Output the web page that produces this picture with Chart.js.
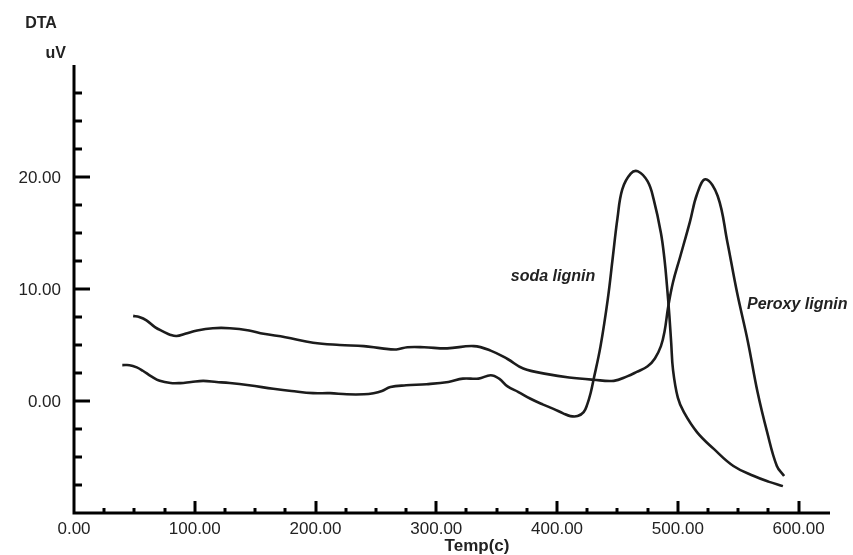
<!DOCTYPE html>
<html>
<head>
<meta charset="utf-8">
<script src="https://cdn.jsdelivr.net/npm/chart.js@4"></script>
<style>
    html, body { margin: 0; padding: 0; background: #fff; }
    #wrap { width: 853px; height: 555px; position: relative; }
</style>
</head>
<body>
<div id="wrap"><canvas id="dtaChart"></canvas></div>
<script>
// temperatures (x) and DTA signal (y)
const peroxyTemp = [49, 54, 60, 67, 74, 80, 85, 92, 102, 115, 129, 145, 157, 175, 198, 220, 240, 255, 267, 276, 290, 309, 331, 345, 359, 372, 392, 410, 430, 447, 458, 466, 475, 481, 486, 489, 492, 496, 502, 510, 516, 523, 533, 541, 549, 558, 566, 574, 582, 588];
const peroxyDta  = [7.6, 7.5, 7.2, 6.6, 6.2, 5.9, 5.8, 6.0, 6.3, 6.5, 6.5, 6.3, 6.0, 5.7, 5.2, 5.0, 4.9, 4.7, 4.6, 4.8, 4.8, 4.7, 4.9, 4.5, 3.75, 2.9, 2.4, 2.1, 1.9, 1.8, 2.2, 2.6, 3.1, 3.8, 4.9, 6.2, 8.4, 10.6, 12.9, 16.0, 18.5, 19.8, 18.3, 14.2, 9.7, 5.3, 0.8, -2.8, -5.8, -6.7];

const sodaTemp = [40, 46, 52, 57, 64, 71, 80, 88, 97, 107, 118, 129, 145, 165, 180, 198, 212, 226, 240, 248, 255, 262, 275, 292, 310, 322, 335, 345, 352, 359, 368, 378, 388, 397, 405, 411, 417, 422, 425, 428, 430, 436, 442, 446, 450, 454, 461, 467, 475, 480, 486, 489, 491, 493, 494.5, 496, 500, 505, 516, 530, 546, 563, 575, 587];
const sodaDta  = [3.2, 3.2, 3.0, 2.7, 2.2, 1.8, 1.6, 1.6, 1.7, 1.8, 1.7, 1.6, 1.4, 1.1, 0.9, 0.7, 0.7, 0.6, 0.6, 0.7, 0.9, 1.25, 1.4, 1.5, 1.7, 2.0, 2.0, 2.3, 2.0, 1.3, 0.8, 0.2, -0.3, -0.7, -1.1, -1.35, -1.35, -1.0, -0.3, 0.8, 1.8, 4.9, 9.1, 12.7, 16.3, 18.9, 20.3, 20.5, 19.6, 18.0, 15.0, 12.6, 10.3, 7.6, 5.2, 2.8, 0.3, -1.0, -2.8, -4.3, -5.8, -6.7, -7.2, -7.6];

// axis ticks
const xTickValues = [0, 100, 200, 300, 400, 500, 600];
const yTickValues = [0, 10, 20];

function toPoints(xs, ys) {
    return xs.map((x, i) => ({ x: x, y: ys[i] }));
}

// axes, tick marks and labels drawn by hand (ticks point inwards in the original)
const axesPlugin = {
    id: 'dtaAxes',
    afterDraw(chart) {
        const ctx = chart.ctx;
        const xs = chart.scales.x;
        const ys = chart.scales.y;
        const left = xs.left, right = xs.right, top = ys.top, bottom = ys.bottom;

        ctx.save();
        ctx.strokeStyle = '#000';
        ctx.lineWidth = 3;
        ctx.lineCap = 'butt';
        ctx.beginPath();
        ctx.moveTo(left, top);
        ctx.lineTo(left, bottom);
        ctx.lineTo(right, bottom);
        ctx.stroke();

        // y ticks every 2.5
        for (let v = -7.5; v <= 27.5; v += 2.5) {
            const py = Math.round(ys.getPixelForValue(v));
            const len = (v % 10 === 0) ? 16 : 8;
            ctx.beginPath();
            ctx.moveTo(left, py);
            ctx.lineTo(left + len, py);
            ctx.stroke();
        }
        // x ticks every 25
        for (let v = 25; v <= 600; v += 25) {
            const px = Math.round(xs.getPixelForValue(v));
            const len = (v % 100 === 0) ? 12 : 5;
            ctx.beginPath();
            ctx.moveTo(px, bottom);
            ctx.lineTo(px, bottom - len);
            ctx.stroke();
        }

        ctx.fillStyle = '#222';
        ctx.font = '17px "Liberation Sans", Arial, sans-serif';
        ctx.textAlign = 'right';
        ctx.textBaseline = 'middle';
        yTickValues.forEach(v => {
            ctx.fillText(v.toFixed(2), left - 13, ys.getPixelForValue(v) + 1);
        });
        ctx.textAlign = 'center';
        xTickValues.forEach(v => {
            ctx.fillText(v.toFixed(2), xs.getPixelForValue(v), bottom + 16);
        });

        ctx.font = 'bold 16px "Liberation Sans", Arial, sans-serif';
        ctx.fillText('DTA', 41, 24);
        ctx.textAlign = 'right';
        ctx.fillText('uV', 66, 54);

        ctx.textAlign = 'center';
        ctx.font = 'bold 17px "Liberation Sans", Arial, sans-serif';
        ctx.fillText('Temp(c)', 477, 546);

        ctx.font = 'italic bold 16px "Liberation Sans", Arial, sans-serif';
        ctx.fillText('soda lignin', 553, 277);
        ctx.textAlign = 'left';
        ctx.fillText('Peroxy lignin', 747, 305);
        ctx.restore();
    }
};

const ctx = document.getElementById('dtaChart').getContext('2d');

const dtaChart = new Chart(ctx, {
    type: 'line',
    data: {
        datasets: [{
            label: 'Peroxy lignin',
            data: toPoints(peroxyTemp, peroxyDta),
            borderColor: '#1c1c1c',
            borderWidth: 2.6,
            pointRadius: 0,
            tension: 0.4,
            fill: false
        }, {
            label: 'soda lignin',
            data: toPoints(sodaTemp, sodaDta),
            borderColor: '#1c1c1c',
            borderWidth: 2.6,
            pointRadius: 0,
            tension: 0.4,
            fill: false
        }]
    },
    options: {
        responsive: true,
        maintainAspectRatio: false,
        animation: false,
        layout: {
            padding: { left: 74, right: 23, top: 65, bottom: 42 }
        },
        scales: {
            x: { type: 'linear', min: 0, max: 626, display: false },
            y: { type: 'linear', min: -10, max: 30, display: false }
        },
        plugins: {
            legend: { display: false },
            tooltip: { enabled: false }
        }
    },
    plugins: [axesPlugin]
});
</script>
</body>
</html>
